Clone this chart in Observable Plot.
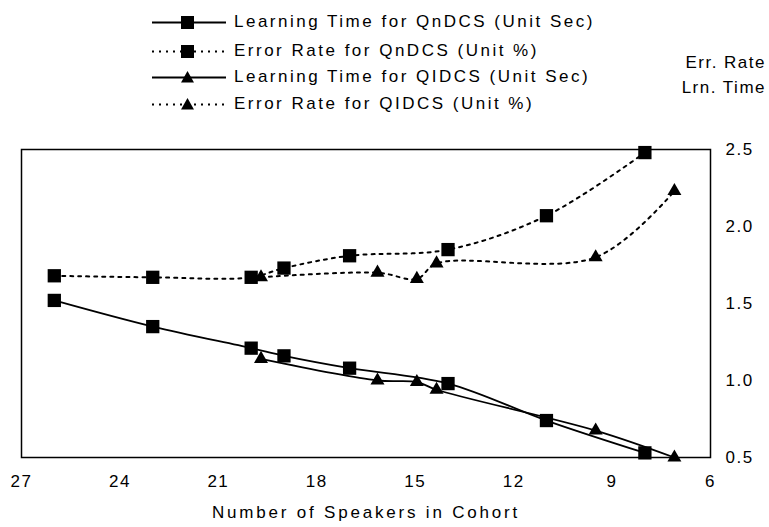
<!DOCTYPE html>
<html>
<head>
<meta charset="utf-8">
<script src="https://cdn.jsdelivr.net/npm/d3@7"></script>
<script src="https://cdn.jsdelivr.net/npm/@observablehq/plot@0.6"></script>
<style>
  html, body { margin: 0; padding: 0; background: #fff; }
  #wrap { position: relative; width: 769px; height: 527px; font-family: "Liberation Sans", Arial, sans-serif; color: #000; }
  #chart { position: absolute; left: 0; top: 0; }
  .leg { position: absolute; left: 150px; height: 22px; display: flex; align-items: center; font-size: 17px; letter-spacing: 2.5px; white-space: nowrap; }
  .leg svg { margin-right: 6px; }
  .ylab { position: absolute; right: 3px; font-size: 17px; letter-spacing: 1.5px; text-align: right; line-height: 25px; top: 50px; }
  svg text { letter-spacing: 1.5px; }
  g[aria-label="x-axis label"] text { letter-spacing: 2.8px; }
</style>
</head>
<body>
<div id="wrap">
  <div id="chart"></div>
  <div id="legend"></div>
  <div class="ylab">Err. Rate<br>Lrn. Time</div>
</div>
<script>
// Data
const qnSpeakers = [26, 23, 20, 19, 17, 14, 11, 8];
const qnLearning = [1.52, 1.35, 1.21, 1.16, 1.08, 0.98, 0.74, 0.53];
const qnError    = [1.68, 1.67, 1.67, 1.73, 1.81, 1.85, 2.07, 2.48];

const qiSpeakers = [19.7, 16.15, 14.95, 14.35, 9.5, 7.1];
const qiLearning = [1.14, 1.00, 0.99, 0.94, 0.675, 0.50];
const qiError    = [1.67, 1.70, 1.66, 1.76, 1.80, 2.23];

const xTicks = [27, 24, 21, 18, 15, 12, 9, 6];
const yTicks = [0.5, 1.0, 1.5, 2.0, 2.5];

const seriesNames = [
  "Learning Time for QnDCS (Unit Sec)",
  "Error Rate for QnDCS (Unit %)",
  "Learning Time for QIDCS (Unit Sec)",
  "Error Rate for QIDCS (Unit %)"
];

const qnLrnData = qnSpeakers.map((x, i) => ({x, y: qnLearning[i]}));
const qnErrData = qnSpeakers.map((x, i) => ({x, y: qnError[i]}));
const qiLrnData = qiSpeakers.map((x, i) => ({x, y: qiLearning[i]}));
const qiErrData = qiSpeakers.map((x, i) => ({x, y: qiError[i]}));

const dash = "3,5";
const curve = "catmull-rom";

const chart = Plot.plot({
  width: 769,
  height: 527,
  marginTop: 149,
  marginLeft: 21,
  marginRight: 59,
  marginBottom: 70,
  style: { fontFamily: "Liberation Sans, Arial, sans-serif", fontSize: "17px", color: "#000", background: "#fff" },
  x: { domain: [27, 6] },
  y: { domain: [0.5, 2.5] },
  marks: [
    Plot.frame({ stroke: "#000", strokeWidth: 1.5 }),
    Plot.axisX({ ticks: xTicks, tickSize: 0, tickPadding: 17, tickFormat: d3.format("d"),
      label: "Number of Speakers in Cohort", labelAnchor: "center", labelArrow: "none", labelOffset: 60 }),
    Plot.axisY({ anchor: "right", ticks: yTicks, tickSize: 0, tickPadding: 15, tickFormat: d3.format(".1f"), label: null }),
    Plot.line(qnLrnData, { x: "x", y: "y", stroke: "#000", strokeWidth: 1.8, curve }),
    Plot.line(qiLrnData, { x: "x", y: "y", stroke: "#000", strokeWidth: 1.8, curve }),
    Plot.line(qnErrData, { x: "x", y: "y", stroke: "#000", strokeWidth: 2, strokeDasharray: dash, curve }),
    Plot.line(qiErrData, { x: "x", y: "y", stroke: "#000", strokeWidth: 2, strokeDasharray: dash, curve }),
    Plot.dot(qnLrnData, { x: "x", y: "y", symbol: "square", r: 7.5, fill: "#000", stroke: "none" }),
    Plot.dot(qnErrData, { x: "x", y: "y", symbol: "square", r: 7.5, fill: "#000", stroke: "none" }),
    Plot.dot(qiLrnData, { x: "x", y: "y", symbol: "triangle", r: 5.2, fill: "#000", stroke: "none" }),
    Plot.dot(qiErrData, { x: "x", y: "y", symbol: "triangle", r: 5.2, fill: "#000", stroke: "none" })
  ]
});
document.getElementById("chart").appendChild(chart);

// Legend
const legendTops = [11, 40, 66, 93];
const legend = document.getElementById("legend");
seriesNames.forEach((name, i) => {
  const dotted = i % 2 === 1;
  const square = i < 2;
  const row = document.createElement("div");
  row.className = "leg";
  row.style.top = legendTops[i] + "px";
  const marker = square
    ? `<rect x="31" y="5" width="13" height="13" fill="#000"/>`
    : `<path d="M37.5,5 L44,16.5 L31,16.5 Z" fill="#000"/>`;
  const line = dotted
    ? `<line x1="2" x2="74" y1="11.5" y2="11.5" stroke="#000" stroke-width="2" stroke-dasharray="2,5"/>`
    : `<line x1="2" x2="76" y1="11.5" y2="11.5" stroke="#000" stroke-width="2"/>`;
  row.innerHTML = `<svg width="78" height="22">${line}${marker}</svg><span>${name}</span>`;
  legend.appendChild(row);
});
</script>
</body>
</html>
